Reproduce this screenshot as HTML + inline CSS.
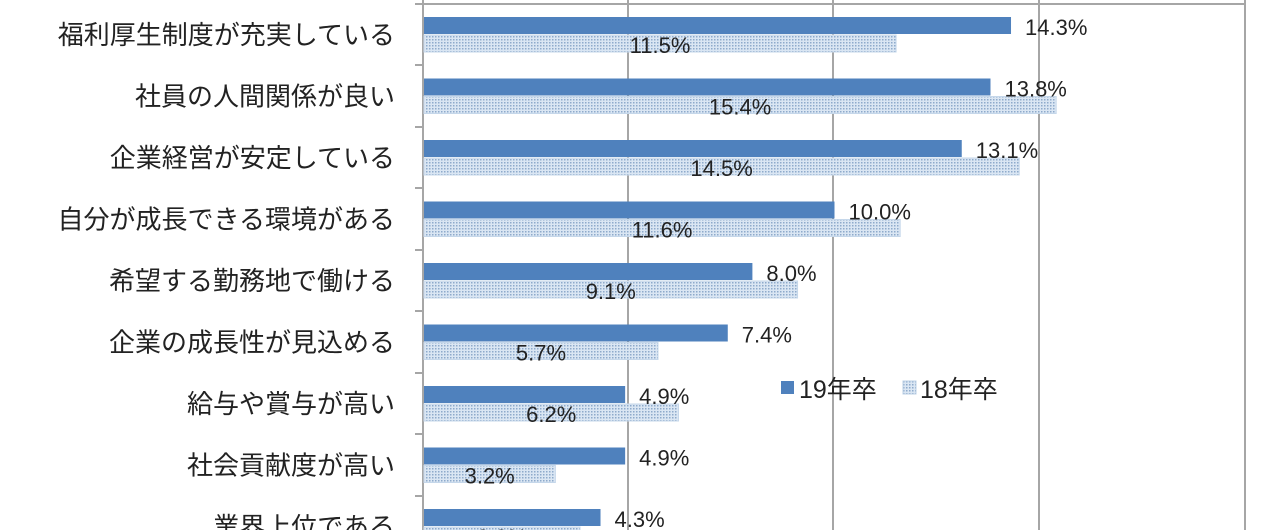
<!DOCTYPE html>
<html><head><meta charset="utf-8"><style>
html,body{margin:0;padding:0;background:#fff;width:1280px;height:530px;overflow:hidden}
text{font-family:"Liberation Sans","Noto Sans CJK JP",sans-serif}
</style></head><body>
<svg width="1280" height="530" xmlns="http://www.w3.org/2000/svg">
<defs>
<pattern id="dots" width="3" height="3" patternUnits="userSpaceOnUse">
<rect width="3" height="3" fill="#dae6f3"/>
<rect x="0" y="0" width="1.5" height="1.5" fill="#8eaacb"/>
</pattern>
</defs>
<g stroke="#a6a6a6" stroke-width="2">
<line x1="423" y1="4" x2="1245" y2="4"/>
<line x1="628" y1="0" x2="628" y2="530"/>
<line x1="833" y1="0" x2="833" y2="530"/>
<line x1="1039" y1="0" x2="1039" y2="530"/>
<line x1="1245" y1="0" x2="1245" y2="530"/>
<line x1="423" y1="0" x2="423" y2="530"/>
</g>
<g stroke="#a6a6a6" stroke-width="2">
<line x1="415" y1="4" x2="423" y2="4"/>
<line x1="415" y1="65" x2="423" y2="65"/>
<line x1="415" y1="127" x2="423" y2="127"/>
<line x1="415" y1="188" x2="423" y2="188"/>
<line x1="415" y1="250" x2="423" y2="250"/>
<line x1="415" y1="311" x2="423" y2="311"/>
<line x1="415" y1="373" x2="423" y2="373"/>
<line x1="415" y1="434" x2="423" y2="434"/>
<line x1="415" y1="496" x2="423" y2="496"/>
</g>
<g id="bars"></g>
<g font-size="22" fill="#222" id="labs"></g>
<g font-size="26" fill="#222" text-anchor="end" id="cats"></g>
<rect x="781" y="381" width="13" height="13" fill="#4f81bd"/>
<text x="799" y="398" font-size="25" fill="#222">19年卒</text>
<rect x="903" y="381" width="13" height="13" fill="url(#dots)" stroke="#bcd0e6"/>
<text x="920" y="398" font-size="25" fill="#222">18年卒</text>
<script>
var cats=["福利厚生制度が充実している","社員の人間関係が良い","企業経営が安定している","自分が成長できる環境がある","希望する勤務地で働ける","企業の成長性が見込める","給与や賞与が高い","社会貢献度が高い","業界上位である"];
var b=[14.3,13.8,13.1,10.0,8.0,7.4,4.9,4.9,4.3],p=[11.5,15.4,14.5,11.6,9.1,5.7,6.2,3.2,3.8];
var ns="http://www.w3.org/2000/svg",B=document.getElementById("bars"),L=document.getElementById("labs"),C=document.getElementById("cats");
function el(t,a,par,txt){var e=document.createElementNS(ns,t);for(var k in a)e.setAttribute(k,a[k]);if(txt)e.textContent=txt;par.appendChild(e);return e;}
for(var i=0;i<9;i++){var y=17+61.5*i,bw=b[i]*41.05,pw=p[i]*41.05;
el("rect",{x:424,y:y,width:bw,height:17,fill:"#4f81bd"},B);
el("rect",{x:424,y:y+18,width:pw,height:17,fill:"url(#dots)",stroke:"#c5d7ea","stroke-width":1},B);
el("text",{x:424+bw+14,y:y+18},L,b[i].toFixed(1)+"%");
el("text",{x:424+pw/2,y:y+36,"text-anchor":"middle"},L,p[i].toFixed(1)+"%");
el("text",{x:395,y:y+27},C,cats[i]);}
</script>
</svg>
</body></html>
